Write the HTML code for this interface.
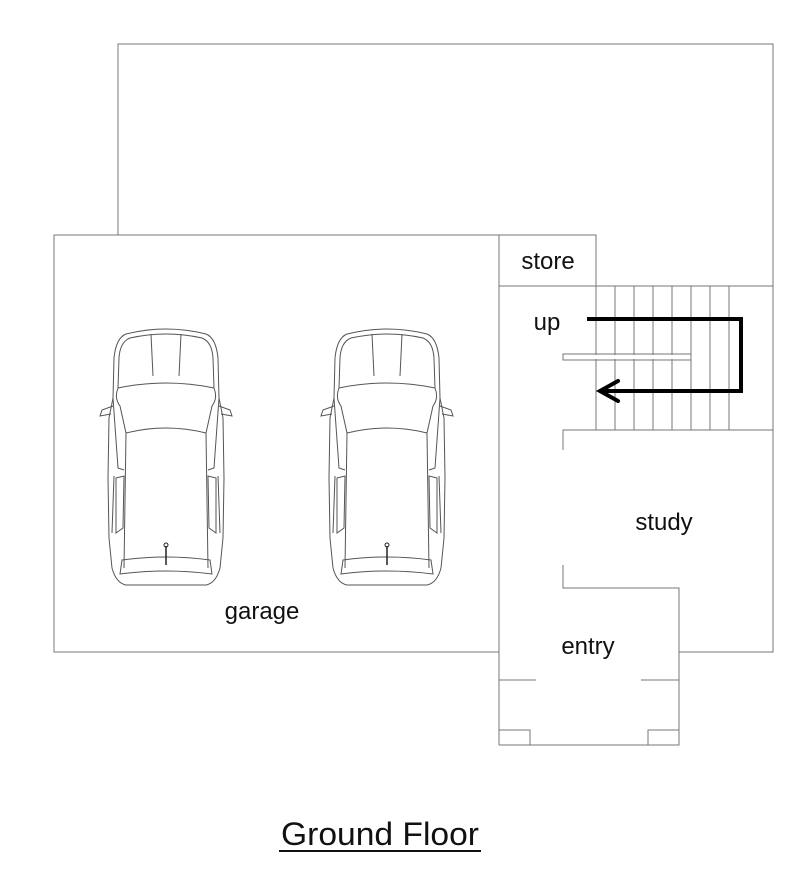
<!DOCTYPE html>
<html><head><meta charset="utf-8"><style>
html,body{margin:0;padding:0;background:#fff;width:800px;height:876px;overflow:hidden}
svg{display:block}
text{font-family:"Liberation Sans",sans-serif;fill:#111}
</style></head><body>
<svg width="800" height="876" viewBox="0 0 800 876" xmlns="http://www.w3.org/2000/svg">
<defs>
<g id="car" fill="none" stroke="#555" stroke-width="1">
  <path d="M-40,6 Q0,-4 40,6 Q50,10 52,30 L53,70 L57,90 L58,150 L57,210 L54,240 Q50,255 40,257 L-40,257 Q-50,255 -54,240 L-57,210 L-58,150 L-57,90 L-53,70 L-52,30 Q-50,10 -40,6 Z"/>
  <path d="M-36,10 Q0,2 36,10 Q46,14 47,30 L48,60 Q0,50 -48,60 L-47,30 Q-46,14 -36,10Z"/>
  <path d="M-15,6 L-13,48 M15,6 L13,48"/>
  <path d="M-48,60 Q-52,70 -46,78 L-40,105 Q0,95 40,105 L46,78 Q52,70 48,60"/>
  <path d="M-40,105 L-42,240 M40,105 L42,240"/>
  <path d="M-53,70 L-48,140 L-42,142 M53,70 L48,140 L42,142"/>
  <path d="M-50,150 L-42,148 L-43,200 L-50,205Z M50,150 L42,148 L43,200 L50,205Z"/>
  <path d="M-52,148 L-54,205 M52,148 L54,205"/>
  <path d="M-44,232 Q0,226 44,232 L46,246 Q0,240 -46,246Z"/>
  <path d="M-53,78 L-64,82 L-66,88 L-55,86 M53,78 L64,82 L66,88 L55,86"/>
  <line x1="0" y1="218" x2="0" y2="237" stroke="#222" stroke-width="1.5"/>
  <circle cx="0" cy="217" r="2" stroke="#222"/>
</g>
</defs>
<g fill="none" stroke="#777" stroke-width="1">
  <polyline points="118,235 118,44 773,44 773,652 679,652"/>
  <rect x="54" y="235" width="445" height="417"/>
  <polyline points="499,286 596,286 596,235 499,235"/>
  <line x1="596" y1="286" x2="773" y2="286"/>
  <line x1="596" y1="286" x2="596" y2="430"/>
  <line x1="499" y1="338" x2="499" y2="745"/>
  <polyline points="499,745 679,745 679,588 563,588 563,565"/>
  <polyline points="773,430 563,430 563,450"/>
  <line x1="499" y1="680" x2="536" y2="680"/>
  <line x1="641" y1="680" x2="679" y2="680"/>
  <polyline points="499,730 530,730 530,745"/>
  <polyline points="679,730 648,730 648,745"/>
  <rect x="563" y="354" width="128" height="6"/>
</g>
<g stroke="#777" stroke-width="1">
  <line x1="615" y1="286" x2="615" y2="430"/><line x1="634" y1="286" x2="634" y2="430"/>
  <line x1="653" y1="286" x2="653" y2="430"/><line x1="672" y1="286" x2="672" y2="430"/>
  <line x1="691" y1="286" x2="691" y2="430"/><line x1="710" y1="286" x2="710" y2="430"/>
  <line x1="729" y1="286" x2="729" y2="430"/>
</g>
<rect x="564" y="355" width="126" height="4" fill="#fff"/>
<polyline points="587,319 741,319 741,391 600,391" fill="none" stroke="#000" stroke-width="4"/>
<polyline points="618,381 600,391 618,401" fill="none" stroke="#000" stroke-width="4" stroke-linecap="round"/>
<use href="#car" transform="translate(166,328)"/>
<use href="#car" transform="translate(387,328)"/>
<g font-size="24">
<text x="548" y="269" text-anchor="middle">store</text>
<text x="547" y="330" text-anchor="middle">up</text>
<text x="664" y="530" text-anchor="middle">study</text>
<text x="262" y="619" text-anchor="middle">garage</text>
<text x="588" y="654" text-anchor="middle">entry</text>
</g>
<text x="380" y="845" text-anchor="middle" font-size="32" textLength="198" lengthAdjust="spacingAndGlyphs">Ground Floor</text>
<line x1="279" y1="851" x2="481" y2="851" stroke="#111" stroke-width="2"/>
</svg>
</body></html>
